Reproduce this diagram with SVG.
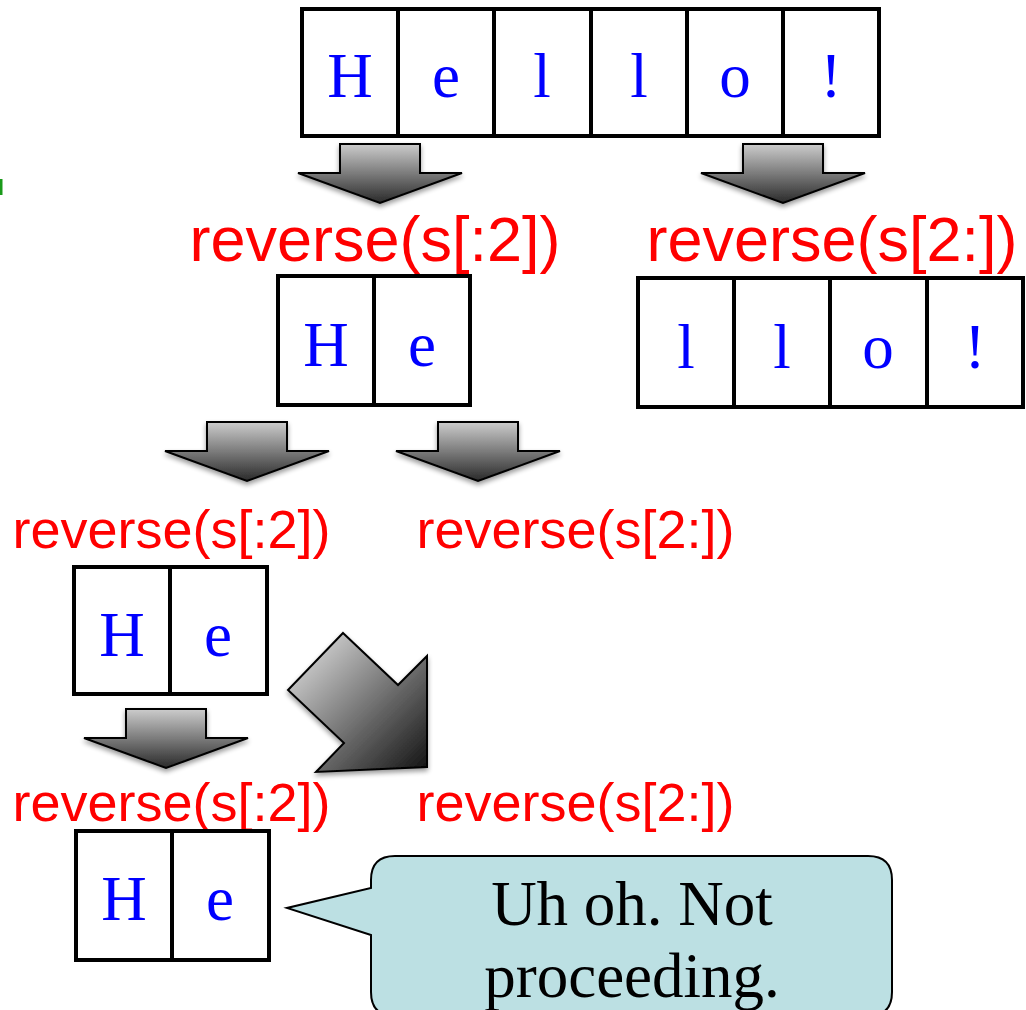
<svg xmlns="http://www.w3.org/2000/svg" width="1026" height="1010" viewBox="0 0 1026 1010">
<style>
.cell{fill:#fff;stroke:#000;stroke-width:4}
.ch{font-family:"Liberation Serif",serif;font-size:63px;fill:#0000ff;text-anchor:middle}
.lbl{font-family:"Liberation Sans",Arial,sans-serif;fill:#ff0000;text-anchor:middle}
.arr{fill:url(#g);stroke:#000;stroke-width:2;filter:url(#sh)}
</style>
<defs>
<linearGradient id="g" x1="0" y1="0" x2="0" y2="1">
<stop offset="0" stop-color="#cccccc"/>
<stop offset="1" stop-color="#2a2a2a"/>
</linearGradient>
<linearGradient id="g2" x1="0" y1="0" x2="1" y2="1">
<stop offset="0.2" stop-color="#c0c0c0"/>
<stop offset="1" stop-color="#111"/>
</linearGradient>
<filter id="sh" x="-20%" y="-20%" width="140%" height="150%">
<feGaussianBlur in="SourceAlpha" stdDeviation="2.5"/>
<feOffset dx="0" dy="3" result="b"/>
<feComponentTransfer><feFuncA type="linear" slope="0.4"/></feComponentTransfer>
<feMerge><feMergeNode/><feMergeNode in="SourceGraphic"/></feMerge>
</filter>
<path id="da" d="M-40,0 H40 V29 H82 L0,59 L-82,29 H-40 Z"/>
</defs>
<rect width="1026" height="1010" fill="#fff"/>
<line x1="1" y1="179" x2="1" y2="195" stroke="#1a9a1a" stroke-width="3"/>

<g id="connectors">
<use href="#da" class="arr" x="380" y="144"/>
<use href="#da" class="arr" x="783" y="144"/>
<use href="#da" class="arr" x="247" y="422"/>
<use href="#da" class="arr" x="478" y="422"/>
<use href="#da" class="arr" x="166" y="709"/>
<path d="M343,633 L398,685 L427,656 L427,767 L316,772 L344,743 L288,690 Z" fill="url(#g2)" stroke="#000" stroke-width="2" filter="url(#sh)"/>
</g>

<g id="s-hello">
<rect class="cell" x="302" y="9" width="96" height="127"/>
<rect class="cell" x="398" y="9" width="96" height="127"/>
<rect class="cell" x="494" y="9" width="97" height="127"/>
<rect class="cell" x="591" y="9" width="96" height="127"/>
<rect class="cell" x="687" y="9" width="96" height="127"/>
<rect class="cell" x="783" y="9" width="96" height="127"/>
<text class="ch" x="350" y="97">H</text>
<text class="ch" x="446" y="97">e</text>
<text class="ch" x="542" y="97">l</text>
<text class="ch" x="639" y="97">l</text>
<text class="ch" x="735" y="97">o</text>
<text class="ch" x="831" y="97">!</text>
</g>

<g id="label-1l"><text class="lbl" x="375" y="261" font-size="63">reverse(s[:2])</text></g>
<g id="label-1r"><text class="lbl" x="832" y="261" font-size="63">reverse(s[2:])</text></g>

<g id="s-he-1">
<rect class="cell" x="278" y="276" width="96" height="129"/>
<rect class="cell" x="374" y="276" width="96" height="129"/>
<text class="ch" x="326" y="366">H</text>
<text class="ch" x="422" y="366">e</text>
</g>

<g id="s-llo">
<rect class="cell" x="638" y="278" width="96" height="129"/>
<rect class="cell" x="734" y="278" width="96" height="129"/>
<rect class="cell" x="830" y="278" width="97" height="129"/>
<rect class="cell" x="927" y="278" width="96" height="129"/>
<text class="ch" x="686" y="368">l</text>
<text class="ch" x="782" y="368">l</text>
<text class="ch" x="878" y="368">o</text>
<text class="ch" x="975" y="368">!</text>
</g>

<g id="label-2l"><text class="lbl" x="171.5" y="548" font-size="54">reverse(s[:2])</text></g>
<g id="label-2r"><text class="lbl" x="575.5" y="548" font-size="54">reverse(s[2:])</text></g>

<g id="s-he-2">
<rect class="cell" x="74" y="567" width="96" height="127"/>
<rect class="cell" x="170" y="567" width="97" height="127"/>
<text class="ch" x="122" y="656">H</text>
<text class="ch" x="218" y="656">e</text>
</g>

<g id="label-3l"><text class="lbl" x="171.5" y="821" font-size="54">reverse(s[:2])</text></g>
<g id="label-3r"><text class="lbl" x="575.5" y="821" font-size="54">reverse(s[2:])</text></g>

<g id="s-he-3">
<rect class="cell" x="76" y="831" width="96" height="129"/>
<rect class="cell" x="172" y="831" width="97" height="129"/>
<text class="ch" x="124" y="920">H</text>
<text class="ch" x="220" y="920">e</text>
</g>

<g id="callout">
<path d="M395,856 H868 Q892,856 892,880 V992 Q892,1016 868,1016 H395 Q371,1016 371,992 V935 L287,908 L371,888 V880 Q371,856 395,856 Z" fill="#bce0e3" stroke="#000" stroke-width="2"/>
<text font-family="Liberation Serif,serif" font-size="63" fill="#000" text-anchor="middle" x="632" y="925">Uh oh. Not</text>
<text font-family="Liberation Serif,serif" font-size="63" fill="#000" text-anchor="middle" x="632" y="997">proceeding.</text>
</g>
</svg>
